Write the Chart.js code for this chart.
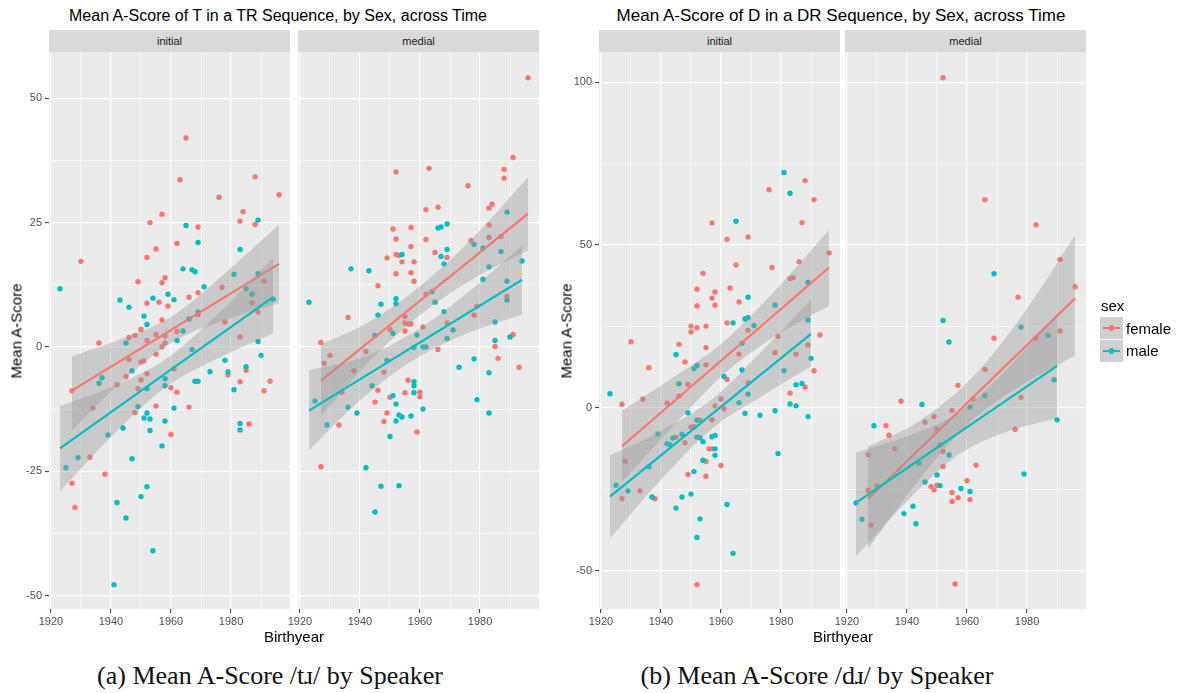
<!DOCTYPE html>
<html>
<head>
<meta charset="utf-8">
<title>Mean A-Score by Sex across Time</title>
<script src="https://cdn.jsdelivr.net/npm/chart.js@4.4.1/dist/chart.umd.min.js"></script>
<style>
  body { margin:0; width:1179px; height:693px; position:relative; overflow:hidden; background:#fff;
         font-family:'Liberation Sans', Arial, sans-serif; color:#000; }
  .abs { position:absolute; white-space:nowrap; }
  canvas { position:absolute; }
  .strip { position:absolute; top:30px; height:22px; line-height:22px; width:241px; background:#D9D9D9;
           color:#1A1A1A; font-size:11px; text-align:center; }
  .ytitle { font-size:15px; transform:translate(-50%,-50%) rotate(-90deg); }
  .ctr { transform:translate(-50%,-50%); }
  .caption { font-family:'Liberation Serif', serif; font-size:26px; color:#111; }
  .key { position:absolute; left:1100px; width:23px; height:22px; background:#CFCFCF; }
  .key i { position:absolute; left:3px; top:10px; width:17px; height:2px; }
  .key b { position:absolute; left:9px; top:8.3px; width:5.4px; height:5.4px; border-radius:50%; }
  .lab { position:absolute; left:1126px; font-size:15px; line-height:22px; }
</style>
</head>
<body>

<div class="abs ctr" style="left:278px;top:16px;font-size:16px">Mean A-Score of T in a TR Sequence, by Sex, across Time</div>
<div class="abs ctr" style="left:841px;top:16px;font-size:17px">Mean A-Score of D in a DR Sequence, by Sex, across Time</div>

<div class="strip" style="left:49px">initial</div>
<div class="strip" style="left:298px">medial</div>
<div class="strip" style="left:599px">initial</div>
<div class="strip" style="left:845px">medial</div>

<canvas id="trInitial"></canvas>
<canvas id="trMedial"></canvas>
<canvas id="drInitial"></canvas>
<canvas id="drMedial"></canvas>

<div class="abs ytitle" style="left:16px;top:331px">Mean A-Score</div>
<div class="abs ytitle" style="left:566px;top:331px">Mean A-Score</div>
<div class="abs ctr" style="left:294px;top:636px;font-size:15px">Birthyear</div>
<div class="abs ctr" style="left:843px;top:636px;font-size:15px">Birthyear</div>

<div class="abs" style="left:1101px;top:297px;font-size:15px">sex</div>
<div class="key" style="top:317px"><i style="background:#F8766D"></i><b style="background:#F8766D"></b></div>
<div class="key" style="top:340px"><i style="background:#00BFC4"></i><b style="background:#00BFC4"></b></div>
<div class="lab" style="top:318px">female</div>
<div class="lab" style="top:340px">male</div>

<div class="abs ctr caption" style="left:270px;top:676px">(a) Mean A-Score /tɹ/ by Speaker</div>
<div class="abs ctr caption" style="left:817px;top:676px">(b) Mean A-Score /dɹ/ by Speaker</div>

<script>
// axis ranges and ticks
var yearRange = [1919.35, 1999.65];
var xTicks = [1920, 1930, 1940, 1950, 1960, 1970, 1980, 1990];
var xLabels = [1920, 1940, 1960, 1980];
var trRange = [-52.7, 59.3];
var trTicks = [-50, -37.5, -25, -12.5, 0, 12.5, 25, 37.5, 50];
var trLabels = [-50, -25, 0, 25, 50];
var drRange = [-61.8, 109.3];
var drTicks = [-50, -25, 0, 25, 50, 75, 100];
var drLabels = [-50, 0, 50, 100];

// [birthyear, mean A-score]
var trInitialFemale = [[1965,42.0],[1963,33.6],[1988,34.2],[1976,30.1],[1996,30.6],[1957,26.7],[1953,25.0],[1984,27.2],
  [1983,25.3],[1988,24.6],[1969,24.1],[1930,17.2],[1962,20.8],[1955,19.7],[1952,18.0],[1949,13.1],[1958,13.9],[1957,12.9],
  [1952,8.8],[1956,9.0],[1959,8.2],[1966,10.0],[1969,10.9],[1977,12.0],[1991,13.2],[1987,8.9],[1989,7.0],[1978,5.0],
  [1983,2.0],[1957,5.4],[1969,6.5],[1950,3.5],[1946,1.9],[1948,2.3],[1955,2.5],[1952,1.3],[1958,2.2],[1962,3.1],[1936,0.8],
  [1958,0.8],[1957,0.0],[1927,-8.8],[1934,-12.3],[1942,-7.6],[1945,-6.0],[1946,-2.5],[1950,-3.0],[1950,-6.6],[1949,-8.4],
  [1948,-13.2],[1951,-2.8],[1952,-5.4],[1955,-1.5],[1955,-11.9],[1960,-8.2],[1962,-9.1],[1961,-4.4],[1960,-17.6],
  [1966,-12.1],[1933,-22.2],[1938,-25.6],[1927,-27.4],[1928,-32.3],[1979,-5.6],[1983,-7.0],[1985,-4.7],[1986,-15.5],
  [1991,-8.8],[1993,-6.9]];
var trInitialMale = [[1923,11.7],[1943,9.4],[1946,8.0],[1951,6.2],[1952,4.5],[1954,9.8],[1959,10.6],[1961,9.5],[1965,24.4],
  [1969,21.0],[1964,15.7],[1967,15.5],[1968,15.1],[1971,12.1],[1983,19.6],[1989,25.5],[1981,14.6],[1989,14.7],[1985,11.7],
  [1987,10.6],[1994,9.6],[1966,5.6],[1969,7.0],[1962,1.3],[1964,3.2],[1989,1.1],[1945,0.8],[1967,-0.5],[1925,-24.3],
  [1929,-22.3],[1936,-7.3],[1937,-6.2],[1939,-17.7],[1944,-16.3],[1947,-4.8],[1947,-22.5],[1942,-31.3],[1945,-34.4],
  [1941,-47.8],[1950,-30.1],[1952,-28.1],[1954,-41.0],[1949,-12.0],[1951,-14.3],[1952,-13.3],[1952,-8.4],[1953,-14.5],
  [1953,-16.8],[1957,-19.9],[1958,-6.4],[1958,-7.8],[1958,-14.9],[1961,-12.3],[1968,-6.9],[1969,-6.9],[1973,-5.0],
  [1978,-2.7],[1979,-5.0],[1981,-8.6],[1983,-15.4],[1983,-16.7],[1985,-4.0],[1990,-1.7]];
var trMedialFemale = [[1996,54.1],[1991,38.1],[1988,35.7],[1988,33.9],[1976,32.4],[1952,35.2],[1963,35.9],[1962,27.6],
  [1966,28.1],[1984,28.7],[1983,27.9],[1951,23.7],[1957,24.0],[1952,21.7],[1962,21.6],[1957,20.2],[1983,24.5],[1977,21.4],
  [1983,22.0],[1987,22.2],[1952,18.6],[1953,18.4],[1949,17.9],[1954,17.1],[1958,17.1],[1965,19.0],[1969,18.0],[1952,14.7],
  [1957,14.9],[1958,13.2],[1946,12.3],[1936,5.9],[1927,0.9],[1962,10.6],[1955,6.1],[1955,4.8],[1955,3.2],[1956,4.6],
  [1957,4.6],[1961,4.0],[1950,3.5],[1969,4.8],[1978,6.4],[1979,8.2],[1989,10.2],[1991,2.5],[1985,0.1],[1966,-0.5],
  [1928,-3.3],[1930,-1.7],[1942,-0.9],[1938,-4.8],[1948,-5.1],[1934,-9.1],[1946,-8.7],[1945,-11.1],[1950,-10.1],
  [1949,-13.3],[1948,-15.0],[1956,-6.7],[1955,-9.2],[1960,-9.1],[1960,-10.0],[1959,-17.1],[1933,-15.7],[1927,-24.1],
  [1986,-2.3],[1993,-4.1]];
var trMedialMale = [[1923,9.0],[1937,15.7],[1943,15.3],[1947,8.6],[1946,6.4],[1952,9.7],[1952,8.7],[1954,18.6],[1966,23.9],
  [1967,24.1],[1969,24.7],[1969,19.6],[1967,18.2],[1968,16.7],[1964,11.1],[1965,9.0],[1989,27.1],[1978,20.6],[1981,19.9],
  [1987,19.2],[1983,16.1],[1981,13.6],[1994,17.3],[1989,13.2],[1989,9.4],[1968,7.1],[1971,3.4],[1969,1.7],[1985,5.0],
  [1985,1.3],[1990,2.0],[1945,2.3],[1951,2.7],[1959,2.4],[1961,0.0],[1962,0.0],[1925,-10.9],[1929,-15.7],[1936,-12.1],
  [1939,-13.3],[1944,-7.8],[1949,-2.7],[1951,-9.8],[1952,-11.5],[1952,-14.9],[1953,-13.7],[1954,-14.1],[1957,-13.9],
  [1950,-18.0],[1958,-7.0],[1958,-7.8],[1958,-9.2],[1961,-12.5],[1958,-0.1],[1973,-4.1],[1978,-2.4],[1979,-10.6],
  [1983,-5.2],[1983,-13.3],[1942,-24.3],[1947,-28.0],[1953,-27.9],[1945,-33.2]];
var drInitialFemale = [[1930,20.3],[1946,19.5],[1957,56.8],[1962,51.8],[1969,52.5],[1965,43.9],[1954,41.3],[1952,36.4],
  [1958,35.6],[1957,33.7],[1963,36.8],[1952,31.3],[1958,31.5],[1966,32.5],[1950,25.1],[1950,23.3],[1952,24.6],[1955,25.1],
  [1955,18.5],[1962,26.1],[1976,67.0],[1988,69.8],[1991,63.9],[1987,56.9],[1977,43.1],[1986,44.9],[1983,39.7],[1984,40.0],
  [1996,47.6],[1993,22.4],[1969,23.8],[1979,21.9],[1989,19.3],[1936,12.3],[1927,1.1],[1934,2.7],[1942,1.5],[1948,14.1],
  [1946,3.6],[1949,7.2],[1955,13.2],[1962,8.7],[1958,0.6],[1960,2.7],[1961,-0.3],[1966,16.5],[1969,7.7],[1953,-3.8],
  [1950,-5.9],[1951,-5.8],[1945,-9.0],[1948,-10.7],[1956,-12.6],[1957,-12.6],[1955,-16.5],[1960,-17.7],[1949,-20.5],
  [1955,-21.0],[1928,-16.4],[1933,-25.5],[1927,-27.9],[1938,-27.9],[1952,-54.3],[1957,-3.7],[1978,17.0],[1985,16.5],
  [1983,4.5],[1988,6.3],[1991,11.4]];
var drInitialMale = [[1981,72.3],[1983,65.9],[1965,57.3],[1969,34.0],[1964,26.1],[1968,27.3],[1969,27.7],[1971,25.3],
  [1978,31.5],[1989,38.6],[1989,27.0],[1967,19.8],[1923,4.3],[1925,-23.8],[1929,-25.5],[1936,-18.1],[1937,-27.4],
  [1939,-8.0],[1942,-11.0],[1943,-11.3],[1944,-9.3],[1945,16.4],[1946,7.4],[1947,-8.1],[1947,-27.4],[1945,-30.8],
  [1949,-1.5],[1950,-26.5],[1951,-19.6],[1951,12.1],[1952,13.0],[1952,-3.8],[1952,-9.0],[1953,-9.2],[1954,-10.4],
  [1954,-16.1],[1953,-34.1],[1952,-39.8],[1957,-8.9],[1958,-8.5],[1958,-12.6],[1958,-14.6],[1961,9.6],[1962,-29.7],
  [1964,-44.7],[1966,1.6],[1967,11.6],[1968,-1.7],[1969,4.2],[1973,-2.3],[1978,-0.9],[1979,-14.0],[1981,11.4],[1983,1.2],
  [1985,7.1],[1985,0.6],[1987,7.5],[1989,-2.7],[1990,15.2]];
var drMedialFemale = [[1952,101.4],[1966,63.9],[1983,56.2],[1991,45.6],[1977,34.0],[1969,21.4],[1983,21.4],[1991,23.6],
  [1966,11.8],[1957,6.9],[1962,2.7],[1955,-0.8],[1938,2.0],[1933,-5.5],[1934,-8.4],[1946,-4.4],[1949,-2.7],[1950,-6.6],
  [1936,-12.6],[1927,-14.4],[1951,-11.4],[1952,-13.4],[1952,-18.0],[1963,-17.6],[1960,-22.4],[1948,-24.2],[1949,-25.2],
  [1950,-23.8],[1955,-26.0],[1955,-28.8],[1957,-27.6],[1961,-28.2],[1930,-23.9],[1927,-25.3],[1928,-36.0],[1956,-54.1],
  [1976,-6.6],[1978,3.2],[1996,37.2]];
var drMedialMale = [[1969,41.2],[1952,26.8],[1954,20.2],[1978,24.8],[1987,22.2],[1929,-5.5],[1945,1.0],[1944,-17.0],
  [1946,-22.8],[1950,-20.6],[1951,-23.9],[1954,-14.5],[1958,-24.8],[1961,-25.7],[1961,0.2],[1966,3.7],[1923,-29.2],
  [1925,-34.2],[1939,-32.5],[1942,-30.2],[1943,-35.6],[1979,-20.3],[1989,8.6],[1990,-3.7]];

// fitted lines [birthyear, score] and confidence bands [birthyear, upper, lower]
var trInitialFemaleFit = [[1927,-8.8],[1996,16.7]];
var trInitialMaleFit = [[1923,-20.4],[1994,10.0]];
var trMedialFemaleFit = [[1927,-6.8],[1996,26.8]];
var trMedialMaleFit = [[1923,-12.8],[1994,13.5]];
var drInitialFemaleFit = [[1927,-11.8],[1996,43.1]];
var drInitialMaleFit = [[1923,-27.3],[1990,22.7]];
var drMedialFemaleFit = [[1927,-28.0],[1996,33.6]];
var drMedialMaleFit = [[1923,-29.2],[1990,12.9]];

var trInitialFemaleBand = [[1927,-1.9,-16.7],[1943,1.5,-7.3],[1960,6.0,0.8],[1978,14.8,5.4],[1996,24.6,8.8]];
var trInitialMaleBand = [[1923,-11.9,-29.0],[1940,-8.1,-18.1],[1958,-2.6,-8.2],[1976,6.8,-2.2],[1994,17.9,2.7]];
var trMedialFemaleBand = [[1927,0.5,-13.9],[1943,5.0,-3.0],[1960,12.2,6.4],[1978,22.2,13.8],[1996,34.2,19.4]];
var trMedialMaleBand = [[1923,-4.7,-20.8],[1940,-2.3,-10.7],[1958,3.0,-2.6],[1976,11.0,2.8],[1994,20.4,6.5]];
var drInitialFemaleBand = [[1927,-0.9,-22.8],[1944,9.3,-5.7],[1961,20.4,10.4],[1978,36.0,22.0],[1996,54.6,31.3]];
var drInitialMaleBand = [[1923,-14.6,-40.1],[1940,-7.1,-22.1],[1957,2.6,-6.4],[1974,17.8,3.8],[1990,33.4,12.7]];
var drMedialFemaleBand = [[1927,-11.9,-43.4],[1944,-4.1,-22.1],[1961,8.6,-4.4],[1978,27.9,6.9],[1996,53.0,16.0]];
var drMedialMaleBand = [[1923,-13.7,-45.7],[1940,-8.7,-28.7],[1957,-1.5,-14.5],[1973,11.6,-7.4],[1990,29.0,-3.2]];

var femaleColor = '#F8766D', maleColor = '#00BFC4', bandColor = 'rgba(153,153,153,0.4)';

Chart.defaults.font.family = "'Liberation Sans', Arial, sans-serif";

var panelBg = {
  id: 'panelBg',
  beforeDraw: function(chart) {
    var a = chart.chartArea, ctx = chart.ctx;
    ctx.save();
    ctx.fillStyle = '#EBEBEB';
    ctx.fillRect(a.left, a.top, a.right - a.left, a.bottom - a.top);
    ctx.restore();
  }
};

function pts(a) { return a.map(function(p) { return {x: p[0], y: p[1]}; }); }

function pointSet(a, color) {
  return {type: 'scatter', data: pts(a), backgroundColor: color, borderWidth: 0, pointRadius: 2.7, pointHoverRadius: 2.7};
}
function fitSet(a, color) {
  return {type: 'line', data: pts(a), borderColor: color, borderWidth: 2.2, pointRadius: 0, fill: false};
}
function bandSets(b) {
  return [
    {type: 'line', data: b.map(function(r) { return {x: r[0], y: r[1]}; }), borderColor: 'transparent', borderWidth: 0,
     pointRadius: 0, fill: false, cubicInterpolationMode: 'monotone'},
    {type: 'line', data: b.map(function(r) { return {x: r[0], y: r[2]}; }), borderColor: 'transparent', borderWidth: 0,
     pointRadius: 0, fill: '-1', backgroundColor: bandColor, cubicInterpolationMode: 'monotone'}
  ];
}

function isMajor(list, c) { return c.tick && list.indexOf(c.tick.value) >= 0; }

function makePanel(id, left, showY, yRange, yTicks, yLabels, fem, mal, femFit, malFit, femBand, malBand) {
  var top = 52, w = 241, h = 557, axisH = 20, padR = 20, padB = 8;
  var padL = showY ? 49 : 30;
  var cv = document.getElementById(id);
  cv.width = w + padL + padR;
  cv.height = h + axisH + padB;
  cv.style.left = (left - padL) + 'px';
  cv.style.top = top + 'px';

  // ggplot drawing order: points, then ribbon + line per group
  var sets = [pointSet(fem, femaleColor), pointSet(mal, maleColor)]
    .concat(bandSets(femBand), [fitSet(femFit, femaleColor)], bandSets(malBand), [fitSet(malFit, maleColor)]);
  sets.forEach(function(d, i) { d.order = sets.length - i; });

  new Chart(cv, {
    type: 'scatter',
    data: {datasets: sets},
    plugins: [panelBg],
    options: {
      responsive: false, animation: false, devicePixelRatio: 1, events: [],
      layout: {autoPadding: false, padding: {left: showY ? 0 : padL, right: padR, top: 0, bottom: padB}},
      plugins: {legend: {display: false}, tooltip: {enabled: false}},
      scales: {
        x: {
          type: 'linear', min: yearRange[0], max: yearRange[1],
          afterBuildTicks: function(s) { s.ticks = xTicks.map(function(v) { return {value: v}; }); },
          afterFit: function(s) { s.height = axisH; s.paddingLeft = 0; s.paddingRight = 0; },
          border: {display: false},
          grid: {
            color: '#FFFFFF',
            lineWidth: function(c) { return isMajor(xLabels, c) ? 1.2 : 0.6; },
            drawTicks: true, tickLength: 4, tickWidth: 1,
            tickColor: function(c) { return isMajor(xLabels, c) ? '#333333' : 'rgba(0,0,0,0)'; }
          },
          ticks: {
            autoSkip: false, maxRotation: 0, padding: 2, color: '#4D4D4D', font: {size: 11},
            callback: function(v) { return xLabels.indexOf(v) >= 0 ? String(v) : ''; }
          }
        },
        y: {
          type: 'linear', min: yRange[0], max: yRange[1],
          afterBuildTicks: function(s) { s.ticks = yTicks.map(function(v) { return {value: v}; }); },
          afterFit: function(s) { s.width = showY ? padL : 0; s.paddingTop = 0; s.paddingBottom = 0; },
          border: {display: false},
          grid: {
            color: '#FFFFFF',
            lineWidth: function(c) { return isMajor(yLabels, c) ? 1.2 : 0.6; },
            drawTicks: showY, tickLength: 4, tickWidth: 1,
            tickColor: function(c) { return isMajor(yLabels, c) ? '#333333' : 'rgba(0,0,0,0)'; }
          },
          ticks: {
            display: showY, padding: 3, color: '#4D4D4D', font: {size: 11},
            callback: function(v) { return yLabels.indexOf(v) >= 0 ? String(v) : ''; }
          }
        }
      }
    }
  });
}

makePanel('trInitial', 49, true, trRange, trTicks, trLabels, trInitialFemale, trInitialMale,
  trInitialFemaleFit, trInitialMaleFit, trInitialFemaleBand, trInitialMaleBand);
makePanel('trMedial', 298, false, trRange, trTicks, trLabels, trMedialFemale, trMedialMale,
  trMedialFemaleFit, trMedialMaleFit, trMedialFemaleBand, trMedialMaleBand);
makePanel('drInitial', 599, true, drRange, drTicks, drLabels, drInitialFemale, drInitialMale,
  drInitialFemaleFit, drInitialMaleFit, drInitialFemaleBand, drInitialMaleBand);
makePanel('drMedial', 845, false, drRange, drTicks, drLabels, drMedialFemale, drMedialMale,
  drMedialFemaleFit, drMedialMaleFit, drMedialFemaleBand, drMedialMaleBand);
</script>
</body>
</html>
